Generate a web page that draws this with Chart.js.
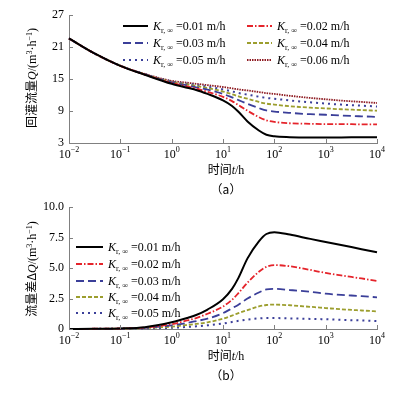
<!DOCTYPE html>
<html>
<head>
<meta charset="utf-8">
<script src="https://cdn.jsdelivr.net/npm/chart.js@4.4.0/dist/chart.umd.min.js"></script>
<style>
    html, body { margin: 0; padding: 0; background: #fff; }
    #wrap { position: relative; width: 398px; height: 394px; }
    #chartA { position: absolute; left: 0; top: 0; }
    #chartB { position: absolute; left: 0; top: 195px; }
</style>
</head>
<body>
<div id="wrap">
    <canvas id="chartA" width="398" height="195"></canvas>
    <canvas id="chartB" width="398" height="199"></canvas>
</div>
<script>
// time axis (h)
const times = [0.01, 0.03, 0.1, 0.3, 1, 2, 3, 5, 10, 15, 20, 30, 50, 70, 100, 200, 500, 1000, 2000, 5000, 10000];
const kValues = ['0.01', '0.02', '0.03', '0.04', '0.05', '0.06'];

// (a) recharge flow Q
const flowK01 = [22.6, 19.88, 17.45, 15.8, 14.1, 13.35, 12.95, 12.2, 11.0, 9.95, 8.85, 7.05, 5.35, 4.55, 4.25, 4.1, 4.05, 4.05, 4.05, 4.1, 4.1];
const flowK02 = [22.6, 19.88, 17.46, 15.83, 14.25, 13.6, 13.2, 12.6, 11.65, 10.85, 10.1, 9.05, 7.85, 7.25, 6.95, 6.7, 6.6, 6.55, 6.55, 6.5, 6.5];
const flowK03 = [22.6, 19.89, 17.47, 15.85, 14.35, 13.8, 13.45, 13.0, 12.2, 11.55, 11.05, 10.35, 9.55, 9.1, 8.9, 8.65, 8.4, 8.3, 8.15, 8.0, 7.9];
const flowK04 = [22.6, 19.89, 17.47, 15.87, 14.45, 13.97, 13.68, 13.3, 12.65, 12.15, 11.75, 11.3, 10.7, 10.38, 10.2, 9.9, 9.63, 9.48, 9.33, 9.18, 9.05];
const flowK05 = [22.6, 19.89, 17.48, 15.9, 14.55, 14.13, 13.88, 13.55, 13.05, 12.67, 12.38, 12.07, 11.68, 11.45, 11.3, 10.98, 10.62, 10.4, 10.2, 10.0, 9.85];
const flowK06 = [22.6, 19.9, 17.5, 15.95, 14.65, 14.3, 14.1, 13.85, 13.5, 13.25, 13.05, 12.85, 12.55, 12.35, 12.2, 11.85, 11.45, 11.2, 10.95, 10.7, 10.5];

// (b) flow difference dQ
const diffK01 = [0, 0.02, 0.05, 0.15, 0.55, 0.9, 1.15, 1.6, 2.45, 3.3, 4.2, 5.8, 7.2, 7.8, 7.95, 7.75, 7.4, 7.15, 6.9, 6.55, 6.3];
const diffK02 = [0, 0.02, 0.04, 0.12, 0.4, 0.7, 0.9, 1.25, 1.85, 2.4, 2.95, 3.8, 4.7, 5.1, 5.25, 5.15, 4.85, 4.6, 4.4, 4.15, 3.95];
const diffK03 = [0, 0.01, 0.03, 0.1, 0.3, 0.5, 0.65, 0.85, 1.3, 1.7, 2.0, 2.5, 3.0, 3.25, 3.3, 3.2, 3.05, 2.9, 2.8, 2.7, 2.6];
const diffK04 = [0, 0.01, 0.03, 0.08, 0.2, 0.33, 0.42, 0.55, 0.85, 1.1, 1.3, 1.55, 1.85, 1.97, 2.0, 1.95, 1.82, 1.72, 1.62, 1.52, 1.45];
const diffK05 = [0, 0.01, 0.02, 0.05, 0.1, 0.17, 0.22, 0.3, 0.45, 0.58, 0.67, 0.78, 0.87, 0.9, 0.9, 0.87, 0.83, 0.8, 0.75, 0.7, 0.65];

// ticks
const xTickValues = [0.01, 0.1, 1, 10, 100, 1000, 10000];
const xTickExponents = ['\u22122', '\u22121', '0', '1', '2', '3', '4'];
const flowTicks = [3, 9, 15, 21, 27];
const diffTicks = [0, 2.5, 5, 7.5, 10];

const SERIF = '"Liberation Serif", "DejaVu Serif", serif';
const CJK = '"Noto Sans CJK SC", sans-serif';
const AXIS_COLOR = '#808080';

const lineStyles = [
    { color: '#000000', dash: [], width: 2 },
    { color: '#e5242b', dash: [6, 2, 1.5, 2], width: 1.8 },
    { color: '#3b3f99', dash: [8, 4], width: 1.8 },
    { color: '#9c9e2e', dash: [4, 2], width: 1.8 },
    { color: '#3b3f99', dash: [2, 4], width: 2 },
    { color: '#8e1b22', dash: [1.5, 1], width: 1.8 }
];

function makeDatasets(series) {
    return series.map((vals, i) => ({
        label: 'K=' + kValues[i] + ' m/h',
        data: times.map((t, j) => ({ x: t, y: vals[j] })),
        borderColor: lineStyles[i].color,
        borderDash: lineStyles[i].dash,
        borderWidth: lineStyles[i].width,
        pointRadius: 0,
        fill: false,
        cubicInterpolationMode: 'monotone',
        clip: 3
    }));
}

// draw text pieces in a row: [{t, f, dy}]
function measureParts(ctx, parts) {
    return parts.reduce((w, p) => { ctx.font = p.f; return w + ctx.measureText(p.t).width; }, 0);
}
function drawParts(ctx, parts, x, y) {
    let cx = x;
    parts.forEach(p => {
        ctx.font = p.f;
        ctx.fillText(p.t, cx, y + (p.dy || 0));
        cx += ctx.measureText(p.t).width;
    });
}

function legendParts(k) {
    return [
        { t: 'K', f: 'italic 12px ' + SERIF },
        { t: 'r, \u221e', f: '8px ' + SERIF, dy: 3 },
        { t: ' =' + k + ' m/h', f: '12px ' + SERIF }
    ];
}

function unitParts(lead, sym) {
    return [
        { t: lead, f: '12px ' + CJK },
        { t: sym, f: 'italic 12px ' + SERIF },
        { t: '/(m', f: '12px ' + SERIF },
        { t: '3', f: '8px ' + SERIF, dy: -4 },
        { t: '\u00b7h', f: '12px ' + SERIF },
        { t: '\u22121', f: '8px ' + SERIF, dy: -4 },
        { t: ')', f: '12px ' + SERIF }
    ];
}

const extrasPlugin = {
    id: 'extras',
    afterDraw(chart, args, opts) {
        const { ctx, chartArea: a, scales: { x, y } } = chart;
        ctx.save();
        // inward tick marks
        ctx.strokeStyle = AXIS_COLOR;
        ctx.lineWidth = 1;
        ctx.setLineDash([]);
        xTickValues.forEach(v => {
            const px = Math.round(x.getPixelForValue(v)) + 0.5;
            ctx.beginPath(); ctx.moveTo(px, a.bottom); ctx.lineTo(px, a.bottom - 4); ctx.stroke();
        });
        y.ticks.forEach(t => {
            const py = Math.round(y.getPixelForValue(t.value)) + 0.5;
            ctx.beginPath(); ctx.moveTo(a.left, py); ctx.lineTo(a.left + 4, py); ctx.stroke();
        });

        ctx.fillStyle = '#000';
        ctx.textBaseline = 'alphabetic';
        ctx.textAlign = 'left';
        // x tick labels 10^n
        xTickValues.forEach((v, i) => {
            const parts = [
                { t: '10', f: '12px ' + SERIF },
                { t: xTickExponents[i], f: '8px ' + SERIF, dy: -6 }
            ];
            const w = measureParts(ctx, parts);
            drawParts(ctx, parts, x.getPixelForValue(v) - w / 2, a.bottom + 15);
        });

        // x title
        const xt = [
            { t: '时间', f: '12px ' + CJK },
            { t: 't', f: 'italic 12px ' + SERIF },
            { t: '/h', f: '12px ' + SERIF }
        ];
        const cxm = (a.left + a.right) / 2 + 3;
        drawParts(ctx, xt, cxm - measureParts(ctx, xt) / 2, a.bottom + 31);
        ctx.font = '12px ' + CJK;
        ctx.textAlign = 'center';
        ctx.fillText(opts.caption, cxm, a.bottom + 51);
        ctx.textAlign = 'left';

        // y title (rotated)
        const yt = unitParts(opts.yLead, opts.ySym);
        ctx.save();
        ctx.translate(36, opts.yCenter);
        ctx.rotate(-Math.PI / 2);
        drawParts(ctx, yt, -measureParts(ctx, yt) / 2, 0);
        ctx.restore();

        // legend
        opts.legend.forEach(item => {
            const st = lineStyles[item.i];
            ctx.strokeStyle = st.color;
            ctx.lineWidth = st.width;
            ctx.setLineDash(st.dash);
            ctx.beginPath();
            ctx.moveTo(item.x, item.y);
            ctx.lineTo(item.x + opts.sampleLen, item.y);
            ctx.stroke();
            ctx.setLineDash([]);
            drawParts(ctx, legendParts(kValues[item.i]), item.x + opts.sampleLen + 5, item.y + 4);
        });
        ctx.restore();
    }
};

function buildChart(id, series, yMin, yMax, yTicks, yFmt, topPad, xHeight, extras) {
    return new Chart(document.getElementById(id), {
        type: 'line',
        data: { datasets: makeDatasets(series) },
        options: {
            responsive: false,
            animation: false,
            events: [],
            layout: { padding: { top: topPad, right: 21, left: 0, bottom: 0 } },
            plugins: { legend: { display: false }, tooltip: { enabled: false }, extras: extras },
            scales: {
                x: {
                    type: 'logarithmic',
                    min: 0.01,
                    max: 10000,
                    grid: { display: false, drawTicks: false },
                    border: { display: true, color: AXIS_COLOR, width: 1 },
                    ticks: { display: false },
                    afterFit: s => { s.height = xHeight; }
                },
                y: {
                    type: 'linear',
                    min: yMin,
                    max: yMax,
                    grid: { display: false, drawTicks: false },
                    border: { display: true, color: AXIS_COLOR, width: 1 },
                    afterBuildTicks: s => { s.ticks = yTicks.map(v => ({ value: v })); },
                    ticks: {
                        padding: 5,
                        color: '#000',
                        font: { family: SERIF, size: 12 },
                        callback: yFmt
                    },
                    afterFit: s => { s.width = 69; }
                }
            }
        },
        plugins: [extrasPlugin]
    });
}

buildChart('chartA',
    [flowK01, flowK02, flowK03, flowK04, flowK05, flowK06],
    3, 27, flowTicks, v => String(v), 15, 52,
    {
        caption: '\uff08a\uff09',
        yLead: '回灌流量', ySym: 'Q', yCenter: 78,
        sampleLen: 25,
        legend: [
            { i: 0, x: 123, y: 26 }, { i: 1, x: 247, y: 26 },
            { i: 2, x: 123, y: 43 }, { i: 3, x: 247, y: 43 },
            { i: 4, x: 123, y: 60 }, { i: 5, x: 247, y: 60 }
        ]
    });

buildChart('chartB',
    [diffK01, diffK02, diffK03, diffK04, diffK05],
    0, 10, diffTicks, v => (v === 0 ? '0' : v.toFixed(1)), 10, 65,
    {
        caption: '\uff08b\uff09',
        yLead: '流量差Δ', ySym: 'Q', yCenter: 74,
        sampleLen: 27,
        legend: [
            { i: 0, x: 76, y: 52 },
            { i: 1, x: 76, y: 69 },
            { i: 2, x: 76, y: 86 },
            { i: 3, x: 76, y: 102 },
            { i: 4, x: 76, y: 118 }
        ]
    });
</script>
</body>
</html>
